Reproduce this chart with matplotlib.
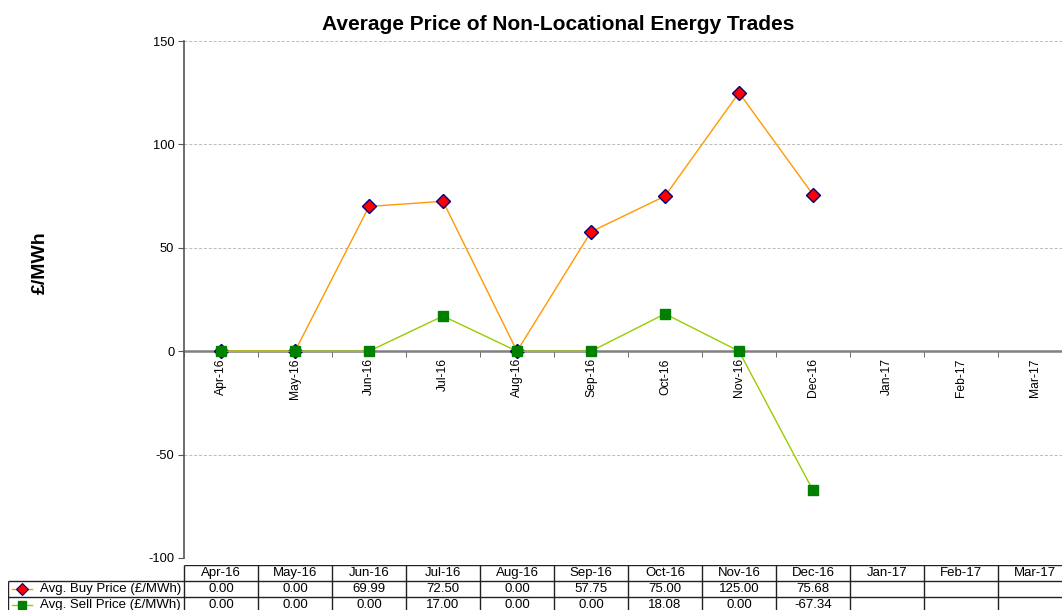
import numpy as np
import matplotlib
matplotlib.use("Agg")
import matplotlib.pyplot as plt

plt.rcParams['font.family'] = ['Liberation Sans', 'DejaVu Sans']
plt.rcParams['axes.unicode_minus'] = False

months = ["Apr-16", "May-16", "Jun-16", "Jul-16", "Aug-16", "Sep-16",
          "Oct-16", "Nov-16", "Dec-16", "Jan-17", "Feb-17", "Mar-17"]
buy = [0.00, 0.00, 69.99, 72.50, 0.00, 57.75, 75.00, 125.00, 75.68, None, None, None]
sell = [0.00, 0.00, 0.00, 17.00, 0.00, 0.00, 18.08, 0.00, -67.34, None, None, None]
buy_label = "Avg. Buy Price (£/MWh)"
sell_label = "Avg. Sell Price (£/MWh)"

W, H = 1062, 610
fig = plt.figure(figsize=(W / 100, H / 100), dpi=100)

# plot area (pixel edges from the reference)
left, right, top, bottom = 184, 1072, 41, 558
ax = fig.add_axes([left / W, (H - bottom) / H, (right - left) / W, (bottom - top) / H])

x = np.arange(len(months))
buy_arr = np.array([np.nan if v is None else v for v in buy])
sell_arr = np.array([np.nan if v is None else v for v in sell])

ax.plot(x, buy_arr, color='#FF9900', lw=1.0, marker='D', ms=7.5,
        mfc='#FF0000', mec='#000080', mew=1.0, zorder=3)
ax.plot(x, sell_arr, color='#99CC00', lw=1.0, marker='s', ms=6.5,
        mfc='#008000', mec='#008000', zorder=4)

ax.set_xlim(-0.5, len(months) - 0.5)
ax.set_ylim(-100, 150)
ax.set_yticks([-100, -50, 0, 50, 100, 150])
ax.yaxis.grid(True, color='#BBBBBB', ls=(0, (3, 2)), lw=0.7)
ax.set_axisbelow(True)

for s in ['top', 'right']:
    ax.spines[s].set_visible(False)
ax.spines['left'].set_color('#555555')
ax.spines['left'].set_linewidth(1.2)
ax.spines['bottom'].set_position(('data', 0))
ax.spines['bottom'].set_color('#808080')
ax.spines['bottom'].set_linewidth(1.8)
ax.spines['bottom'].set_zorder(2)

ax.set_xticks(x)
ax.set_xticklabels(months, rotation=90, fontsize=8.7)
ax.set_xticks(np.arange(len(months) + 1) - 0.5, minor=True)
ax.tick_params(axis='x', which='major', length=0, pad=5)
ax.tick_params(axis='x', which='minor', length=4, color='#555555', direction='out')
ax.tick_params(axis='y', length=4, color='#555555', labelsize=9.3, pad=3)

fig.text(558 / W, 1 - 25 / H, "Average Price of Non-Locational Energy Trades",
         fontsize=15, fontweight='bold', ha='center', va='center')
fig.text(40 / W, 1 - 263 / H, "£/MWh", rotation=90, fontsize=14,
         fontweight='bold', ha='center', va='center')

# data table below the chart
lab_w = (left - 8) / 74.0
tx0 = -0.5 - lab_w
t_top, t_bot = 565, 613
tax = fig.add_axes([8 / W, (H - t_bot) / H, (right - 8) / W, (t_bot - t_top) / H])
tax.set_xlim(tx0, len(months) - 0.5)
tax.set_ylim(0, 3)
tax.axis('off')

lc = '#222222'
fs = 9.5
# horizontal rules
tax.hlines(3, -0.5, len(months) - 0.5, color=lc, lw=1)
tax.hlines([2, 1, 0], tx0, len(months) - 0.5, color=lc, lw=1)
# vertical rules
for b in np.arange(len(months) + 1) - 0.5:
    tax.vlines(b, 0, 3, color=lc, lw=1)
tax.vlines(tx0, 0, 2, color=lc, lw=1)

for i, m in enumerate(months):
    tax.text(i, 2.5, m, ha='center', va='center', fontsize=fs)
    if buy[i] is not None:
        tax.text(i, 1.5, f"{buy[i]:.2f}", ha='center', va='center', fontsize=fs)
    if sell[i] is not None:
        tax.text(i, 0.5, f"{sell[i]:.2f}", ha='center', va='center', fontsize=fs)

# legend keys in label column
kx0 = tx0 + 4 / 74.0
kx1 = tx0 + 24 / 74.0
kxm = (kx0 + kx1) / 2
tax.plot([kx0, kx1], [1.5, 1.5], color='#FF9900', lw=1)
tax.plot([kxm], [1.5], marker='D', ms=6, mfc='#FF0000', mec='#000080', mew=0.8, color='#FF9900')
tax.plot([kx0, kx1], [0.5, 0.5], color='#99CC00', lw=1)
tax.plot([kxm], [0.5], marker='s', ms=6, mfc='#008000', mec='#008000', color='#99CC00')
tax.text(tx0 + 32 / 74.0, 1.5, buy_label, ha='left', va='center', fontsize=fs)
tax.text(tx0 + 32 / 74.0, 0.5, sell_label, ha='left', va='center', fontsize=fs)

fig.savefig("out.png", dpi=100)
